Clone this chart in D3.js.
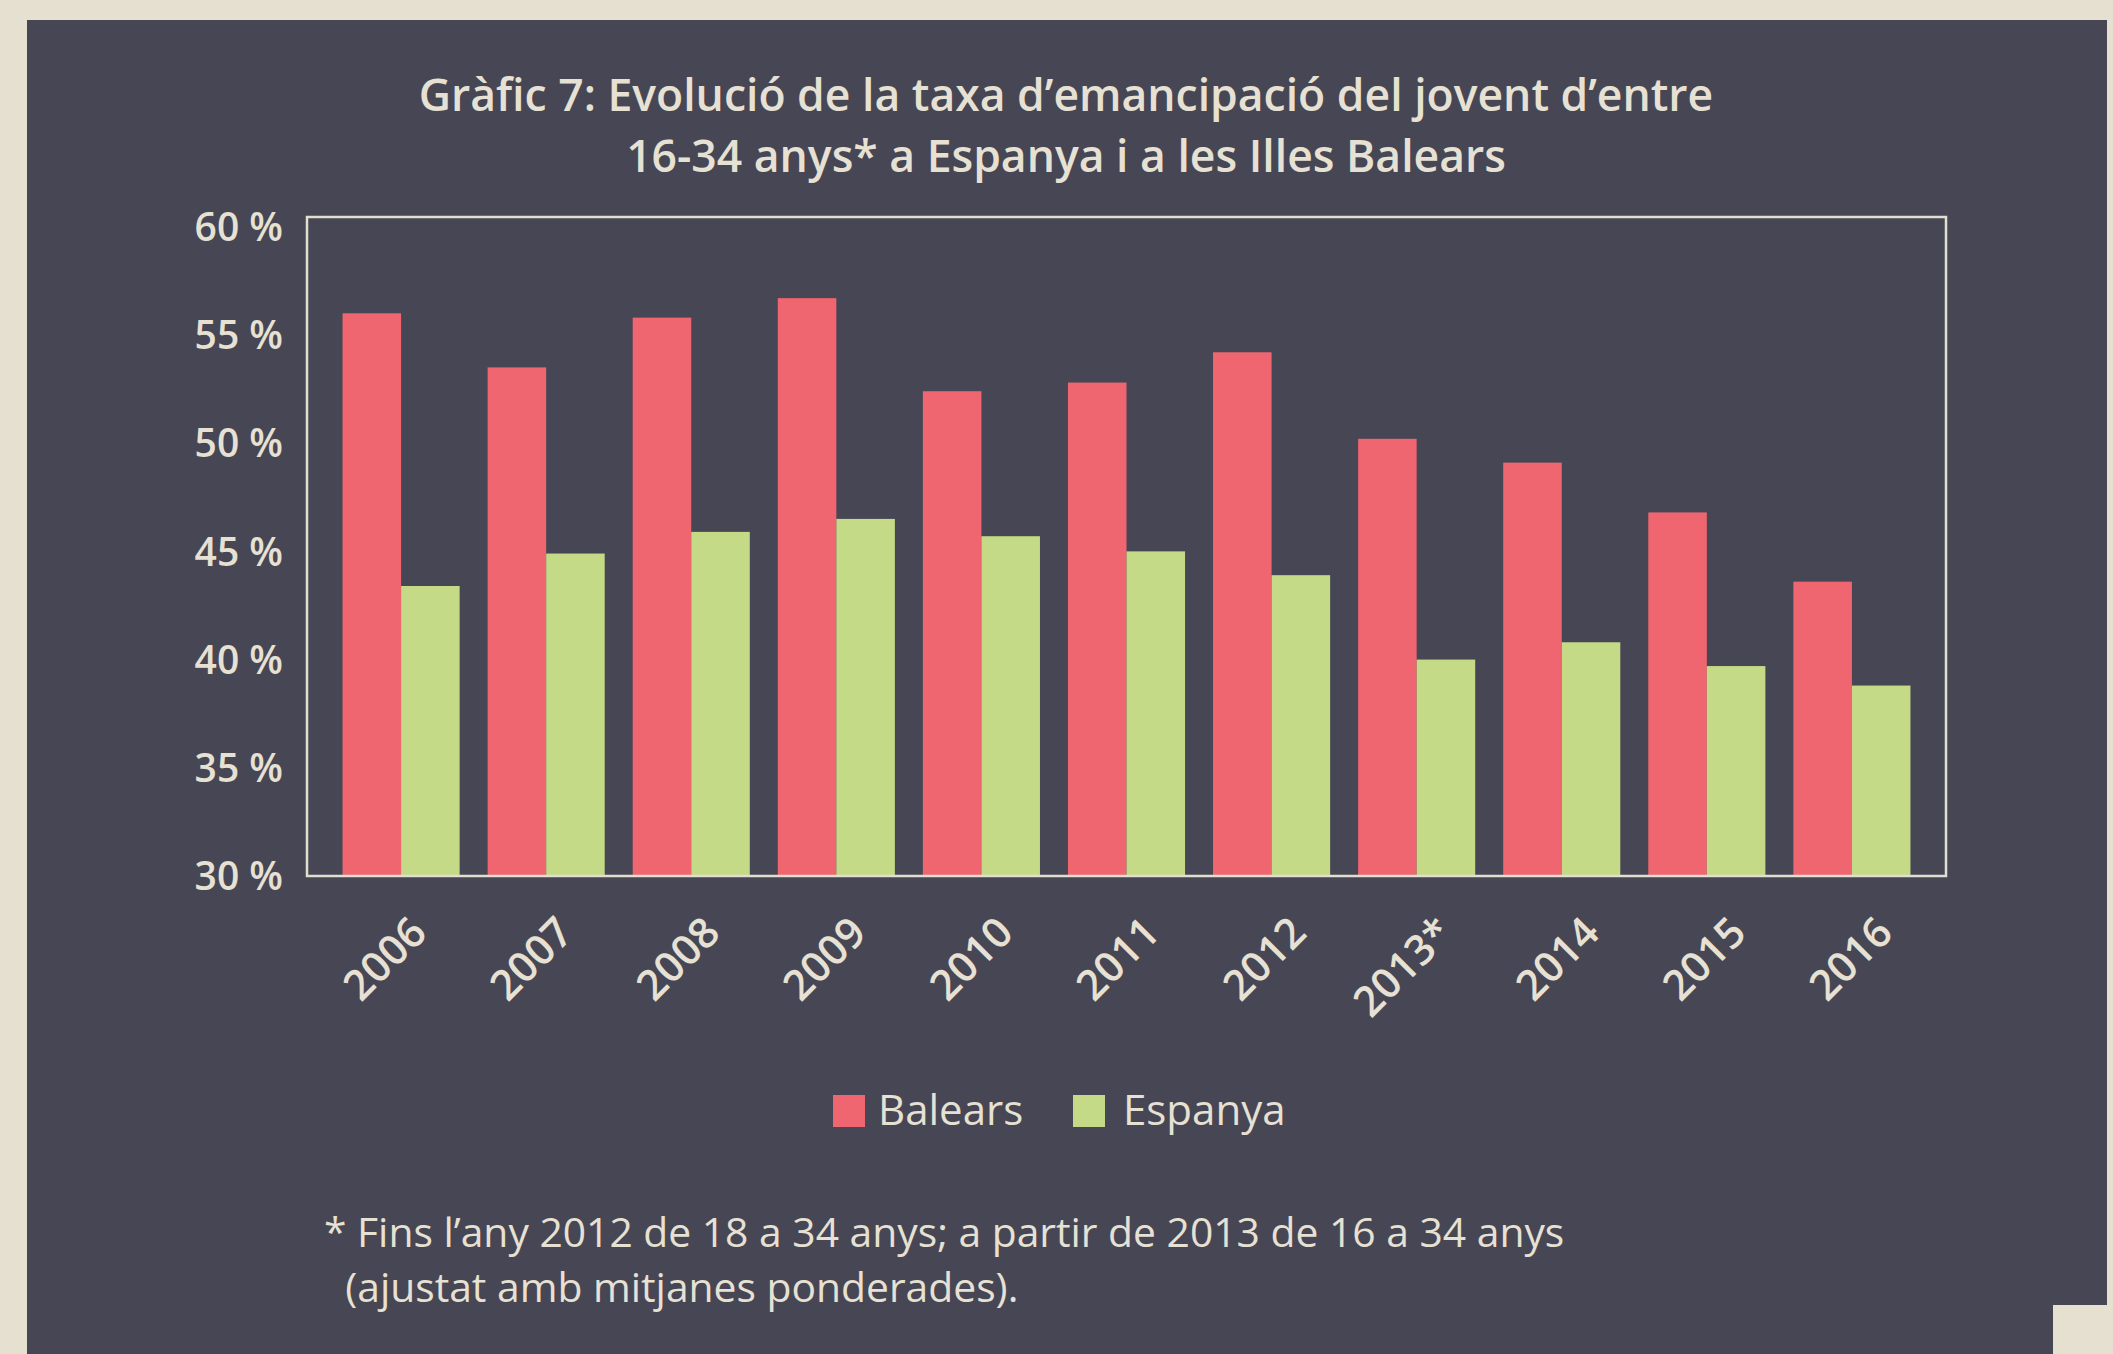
<!DOCTYPE html>
<html><head><meta charset="utf-8">
<script src="https://cdn.jsdelivr.net/npm/d3@7"></script>
<style>
html,body{margin:0;padding:0;background:#e6e0d1;}
svg{display:block;}
text{font-family:"Open Sans","Noto Sans",sans-serif;fill:#e6e1d3;}
</style></head>
<body>
<svg id="chart" width="2113" height="1354"></svg>
<script>
const years = ["2006","2007","2008","2009","2010","2011","2012","2013*","2014","2015","2016"];
const balears = [56.0,53.5,55.8,56.7,52.4,52.8,54.2,50.2,49.1,46.8,43.6];
const espanya = [43.4,44.9,45.9,46.5,45.7,45.0,43.9,40.0,40.8,39.7,38.8];
const seriesNames = ["Balears","Espanya"];
const seriesColors = ["#ef6670","#c5da87"];
const yTicks = [30,35,40,45,50,55,60];
const titleLines = ["Gràfic 7: Evolució de la taxa d’emancipació del jovent d’entre","16-34 anys* a Espanya i a les Illes Balears"];
const noteLines = ["* Fins l’any 2012 de 18 a 34 anys; a partir de 2013 de 16 a 34 anys","  (ajustat amb mitjanes ponderades)."];

const svg = d3.select("#chart");
const W = 2113, H = 1354;
svg.append("rect").attr("x",0).attr("y",0).attr("width",W).attr("height",H).attr("fill","#e6e0d1");
svg.append("rect").attr("x",27).attr("y",20).attr("width",2080).attr("height",H-20).attr("fill","#474655");
svg.append("rect").attr("x",2053).attr("y",1305).attr("width",60).attr("height",49).attr("fill","#e6e0d1");

const plot = {left:307, right:1946, top:217, bottom:876};
const x = d3.scaleBand().domain(years).range([plot.left, plot.right]).paddingInner(0.193).paddingOuter(0.245);
const xs = d3.scaleBand().domain(seriesNames).range([0, x.bandwidth()]);
const y = d3.scaleLinear().domain([30, 60.45]).range([plot.bottom, plot.top]);
const labelX = d3.scalePoint().domain(years).range([429, 1895]);

// title
svg.append("g").selectAll("text").data(titleLines).join("text")
  .attr("x",1066).attr("y",(d,i)=>111+i*61).attr("text-anchor","middle")
  .attr("font-size",44.5).attr("font-weight",600).text(d=>d);

// bars
const data = years.map((yr,i)=>({yr, vals:[{s:"Balears",v:balears[i],c:seriesColors[0]},{s:"Espanya",v:espanya[i],c:seriesColors[1]}]}));
const g = svg.append("g");
g.selectAll("g.grp").data(data).join("g").attr("class","grp")
  .attr("transform",d=>`translate(${x(d.yr)},0)`)
  .selectAll("rect").data(d=>d.vals).join("rect")
  .attr("x",d=>xs(d.s)).attr("width",xs.bandwidth())
  .attr("y",d=>y(d.v)).attr("height",d=>y(30)-y(d.v)).attr("fill",d=>d.c);

// frame
svg.append("rect").attr("x",plot.left).attr("y",plot.top).attr("width",plot.right-plot.left).attr("height",plot.bottom-plot.top)
  .attr("fill","none").attr("stroke","#e3dfd0").attr("stroke-width",2.5);

// y axis labels
const yAxis = d3.axisLeft(y).tickValues(yTicks).tickSize(0).tickPadding(0).tickFormat(d=>d+" %");
const ya = svg.append("g").attr("transform","translate(283,0)").call(yAxis);
ya.select(".domain").remove();
ya.selectAll("text").attr("font-size",39).attr("font-weight",600).attr("fill","#e6e1d3")
  .attr("font-family",'"Open Sans","Noto Sans",sans-serif').attr("dy","0.35em");

// x labels
svg.append("g").selectAll("text").data(years).join("text")
  .attr("text-anchor","end").attr("font-size",42).attr("font-weight",600)
  .attr("transform",d=>`translate(${labelX(d)},${935}) rotate(-45)`).text(d=>d);

// legend
const leg = svg.append("g");
const legPos = [{rx:833, tx:878},{rx:1073, tx:1123}];
seriesNames.forEach((s,i)=>{
  leg.append("rect").attr("x",legPos[i].rx).attr("y",1095).attr("width",32).attr("height",32).attr("fill",seriesColors[i]);
  leg.append("text").attr("x",legPos[i].tx).attr("y",1125).attr("font-size",42).attr("font-weight",500).text(s);
});

// footnote
svg.append("g").selectAll("text").data(noteLines).join("text")
  .attr("x",324).attr("y",(d,i)=>1247+i*55).attr("font-size",40.8).attr("font-weight",500)
  .attr("xml:space","preserve").style("white-space","pre").text(d=>d);
</script>
</body></html>
